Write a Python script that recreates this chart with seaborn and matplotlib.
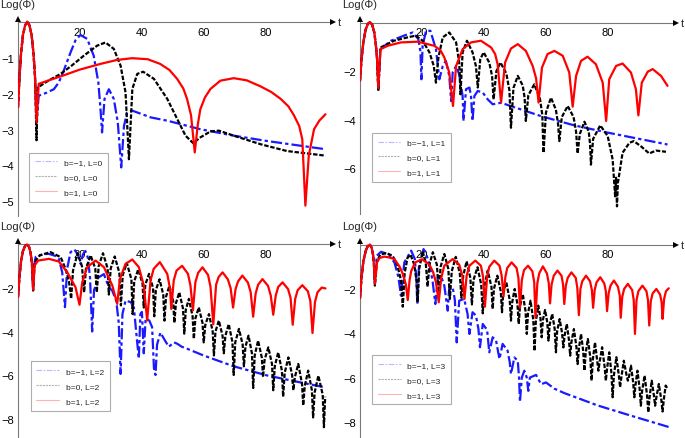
import numpy as np
import matplotlib
matplotlib.use("Agg")
import matplotlib.pyplot as plt
from matplotlib.lines import Line2D
from matplotlib.ticker import MultipleLocator, FixedLocator
import seaborn as sns

# (t, Log(Phi)) points, one array per curve.
# Every panel starts with the same pulse, listed once per panel.

P1_START = np.array([[0, -2.38], [0.5, -1.5], [1.0, -0.85], [1.6, -0.35], [2.3, -0.08],
                     [3.0, 0.02], [3.7, -0.08], [4.4, -0.35], [5.0, -0.85], [5.5, -1.5]])
P1_BLUE = np.array([[6.0, -2.8], [6.7, -2.05], [8.9, -1.98], [11.6, -1.87], [13.2, -1.68],
                    [14.8, -1.35], [17, -0.84], [18.6, -0.5], [20.2, -0.35], [22.4, -0.46],
                    [24.5, -0.93], [26, -1.68], [26.7, -2.43], [27.2, -3.08], [28, -2.14],
                    [29.4, -1.87], [31, -2.14], [32.3, -2.8], [33.4, -4.06], [34.3, -2.9],
                    [35.3, -2.52], [37, -2.47], [43, -2.66], [48.3, -2.75], [59, -2.99],
                    [69.8, -3.17], [80.6, -3.32], [99.5, -3.55]])
P1_BLACK = np.array([[6.0, -3.3], [6.4, -1.82], [10, -1.62], [13.8, -1.44], [17.5, -1.2],
                     [21.3, -0.93], [25.6, -0.65], [28.3, -0.56], [31, -0.74], [33.2, -1.21],
                     [34.8, -1.96], [35.9, -3.83], [37, -1.86], [38.6, -1.44], [40.5, -1.38],
                     [44, -1.58], [48.3, -2.14], [51.5, -2.7], [54.2, -3.17], [56.7, -3.38],
                     [59, -3.22], [62.3, -3.05], [65, -3.03], [69.8, -3.17], [78.5, -3.41],
                     [87, -3.6], [99.5, -3.73]])
P1_RED = np.array([[6.0, -2.8], [6.7, -1.72], [10, -1.62], [13.8, -1.51], [20, -1.32],
                   [26.7, -1.16], [32, -1.05], [37, -1.0], [42, -1.03], [46, -1.16],
                   [49, -1.33], [51.5, -1.58], [53.5, -1.85], [54.7, -2.14], [56, -2.6],
                   [57.2, -3.64], [58.2, -2.85], [59, -2.43], [60.5, -2.1], [62.3, -1.86],
                   [65.5, -1.63], [69.8, -1.56], [74, -1.62], [78.5, -1.79], [82, -1.95],
                   [85, -2.14], [87.5, -2.35], [89.3, -2.6], [91, -2.9], [92, -3.27],
                   [93, -5.13], [94.1, -3.73], [95.8, -2.99], [97.5, -2.75], [99.5, -2.57]])

P2_START = np.array([[0, -2.4], [0.5, -1.5], [1.1, -0.8], [1.8, -0.3], [2.5, -0.06],
                     [3.2, 0.02], [3.9, -0.08], [4.6, -0.4], [5.1, -0.9], [5.5, -1.5]])
P2_BLUE = np.array([[5.9, -2.7], [6.6, -1.1], [10, -0.75], [15.4, -0.48], [17, -0.41],
                    [18.8, -0.68], [19.5, -1.2], [19.8, -2.34], [20.2, -0.96], [21.3, -0.34],
                    [22.7, -0.34], [24.5, -1.1], [25.6, -2.34], [26.7, -1.79], [27.7, -1.58],
                    [28.8, -2.2], [29.4, -3.24], [29.9, -2.06], [31, -1.79], [32, -2.13],
                    [32.6, -2.61], [33.1, -3.03], [33.4, -4.06], [34.2, -2.75], [35.3, -2.68],
                    [35.8, -3.03], [36.3, -4.06], [36.9, -3.03], [38, -2.82], [39.6, -2.89],
                    [41.2, -3.17], [42.8, -3.37], [45.5, -3.31], [58.4, -3.86], [69.1, -4.24],
                    [79.9, -4.54], [99.2, -5.03]])
P2_BLACK = np.array([[5.9, -2.82], [6.6, -1.03], [11, -0.75], [15.4, -0.61], [18, -0.54],
                     [20.2, -0.75], [22.4, -1.23], [23.8, -1.79], [24.5, -2.48], [25.3, -1.44],
                     [26.7, -0.61], [28.8, -0.41], [31, -0.82], [32, -1.65], [32.4, -2.96],
                     [33.1, -1.23], [34.5, -0.75], [36.3, -1.23], [37.4, -1.8], [38, -2.68],
                     [38.8, -1.51], [39.9, -1.23], [41.7, -1.65], [42.6, -2.2], [43.1, -3.17],
                     [44.0, -2.0], [45.3, -1.65], [47.2, -2.1], [48.2, -2.8], [48.7, -4.34],
                     [49.5, -2.7], [50.9, -2.2], [52.5, -2.6], [53.1, -3.1], [53.5, -4.06],
                     [54.3, -3.0], [56.2, -2.55], [58.0, -3.1], [58.8, -3.8], [59.2, -5.37],
                     [60.0, -3.7], [61.6, -3.1], [63.2, -3.6], [63.9, -4.2], [64.3, -4.89],
                     [65.1, -3.9], [67, -3.44], [68.9, -3.9], [69.7, -4.5], [70.2, -5.4],
                     [70.9, -4.6], [72.4, -4.09], [73.8, -4.5], [74.2, -5.0], [74.5, -5.86],
                     [75.2, -4.8], [77.5, -4.24], [79.9, -4.68], [81.5, -5.65], [82.3, -7.17],
                     [82.6, -6.4], [82.9, -7.58], [83.2, -6.6], [83.7, -6.2], [84.7, -5.37],
                     [86.9, -4.96], [88.3, -4.89], [90.6, -5.1], [93.3, -5.4], [95.5, -5.28],
                     [98.7, -5.33]])
P2_RED = np.array([[5.9, -2.7], [6.6, -1.1], [8.9, -0.96], [13.2, -0.82], [18.6, -0.79],
                   [24, -0.96], [26, -1.15], [27.2, -1.44], [28.8, -2.06], [30, -3.44],
                   [31, -1.79], [33.1, -1.1], [35.8, -0.82], [39, -0.75], [42.3, -1.03],
                   [43.6, -1.3], [44.4, -1.72], [45.5, -3.3], [46.8, -1.65], [48.7, -1.07],
                   [50.9, -0.89], [53.5, -1.17], [55.7, -1.79], [56.8, -2.3], [57.6, -3.3],
                   [58.7, -1.86], [60.5, -1.3], [62.7, -1.17], [65.4, -1.37], [67.5, -2.06],
                   [68.6, -3.47], [69.7, -2.2], [71.3, -1.58], [73.4, -1.41], [76.1, -1.72],
                   [78.3, -2.48], [79.4, -4.06], [80.4, -2.34], [82.6, -1.79], [84.7, -1.69],
                   [87.4, -2.06], [89.0, -2.75], [89.8, -3.83], [90.9, -2.48], [92.8, -2.03],
                   [94.4, -1.92], [97.1, -2.2], [99.2, -2.61]])

P3_START = np.array([[0, -2.42], [0.5, -1.45], [1.0, -0.75], [1.6, -0.3], [2.3, -0.06],
                     [3.0, 0.0], [3.6, -0.12], [4.1, -0.4], [4.5, -0.85]])
P3_BLUE = np.array([[4.9, -2.1], [5.2, -1.0], [5.7, -0.58], [8, -0.45], [10, -0.43],
                    [12, -0.52], [13.2, -0.66], [14.3, -1.27], [15.2, -2.88], [15.9, -1.12],
                    [17, -0.35], [18.3, -0.23], [19.5, -0.5], [20.3, -0.9], [21, -0.45],
                    [21.8, -0.3], [22.6, -0.6], [23.3, -1.5], [24, -4.0], [24.6, -2.1],
                    [26.1, -1.51], [27.8, -1.36], [29.4, -1.97], [30.5, -2.12], [31.8, -2.6],
                    [32.6, -3.6], [33.2, -5.95], [33.8, -3.2], [34.8, -2.58], [36.5, -2.65],
                    [37.5, -2.9], [38.5, -4.4], [39.1, -5.25], [39.6, -3.2], [40.1, -3.1],
                    [40.7, -5.0], [41.3, -3.4], [42.5, -3.5], [43.4, -3.8], [44.0, -5.7],
                    [44.5, -6.0], [45.0, -4.6], [46.1, -4.05], [47.5, -4.4], [48.8, -4.7],
                    [50.5, -4.5], [51.5, -4.56], [53, -4.7], [54.7, -4.79], [60, -5.1],
                    [69.8, -5.6], [80.6, -6.02], [90, -6.3], [99.5, -6.57]])
P3_BLACK = np.array([[4.9, -2.12], [5.4, -0.8], [7, -0.5], [10.5, -0.35], [13.8, -0.58],
                     [15.4, -1.12], [16.5, -1.7], [17.2, -2.5], [17.8, -1.2], [19.3, -0.4],
                     [20.7, -1.0], [21.4, -2.2], [22.0, -1.1], [23.5, -0.5], [25.0, -1.1],
                     [25.5, -2.2], [26.1, -1.0], [27.5, -0.4], [29.0, -1.1], [29.4, -2.3],
                     [30.0, -1.1], [31.3, -0.55], [32.8, -1.3], [33.3, -2.8], [33.9, -1.4],
                     [35.2, -0.85], [36.7, -1.6], [37.1, -3.2], [37.6, -1.7], [38.9, -1.15],
                     [40.3, -1.8], [40.7, -2.9], [41.2, -1.85], [42.4, -1.35], [43.7, -2.0],
                     [44.1, -3.3], [44.6, -2.1], [45.8, -1.6], [47.0, -2.3], [47.4, -3.5],
                     [47.9, -2.4], [49.0, -1.9], [50.2, -2.6], [50.6, -3.6], [51.1, -2.7],
                     [52.2, -2.2], [53.4, -2.95], [53.8, -4.1], [54.3, -3.0], [55.3, -2.5],
                     [56.5, -3.3], [56.9, -4.34], [57.4, -3.4], [58.5, -2.89], [59.7, -3.6],
                     [60.1, -4.5], [60.6, -3.7], [61.8, -3.2], [63.0, -4.0], [63.4, -5.1],
                     [63.9, -4.0], [65.0, -3.5], [66.2, -4.2], [66.6, -5.0], [67.1, -4.2],
                     [68.2, -3.66], [69.4, -4.5], [69.8, -6.0], [70.3, -4.5], [71.5, -3.88],
                     [72.7, -4.6], [73.1, -5.6], [73.6, -4.7], [74.6, -4.19], [75.7, -5.0],
                     [76.1, -6.6], [76.6, -5.1], [77.7, -4.42], [78.9, -5.2], [79.3, -6.1],
                     [79.8, -5.3], [81.0, -4.73], [82.2, -5.5], [82.6, -6.7], [83.1, -5.6],
                     [84.2, -4.96], [85.4, -5.8], [85.8, -7.0], [86.3, -5.9], [87.5, -5.19],
                     [88.7, -6.0], [89.1, -6.7], [89.6, -6.1], [90.7, -5.49], [91.9, -6.4],
                     [92.3, -7.4], [92.8, -6.5], [93.9, -5.8], [95.1, -6.7], [95.5, -7.95],
                     [96.0, -6.8], [97.2, -6.03], [98.6, -6.9], [99.0, -8.4], [99.4, -7.0]])
P3_RED = np.array([[4.9, -2.08], [5.4, -0.96], [6.5, -0.74], [10, -0.66], [13.2, -0.78],
                   [15.9, -1.27], [18.6, -1.96], [19.9, -2.77], [20.8, -1.73], [22.4, -1.04],
                   [25.1, -0.74], [27.8, -1.04], [30.5, -1.88], [32.1, -2.73], [33, -1.58],
                   [34.8, -0.89], [37, -0.69], [39.1, -1.04], [40.7, -1.88], [41.8, -3.49],
                   [42.9, -1.65], [43.9, -1.12], [45.9, -0.81], [48.3, -1.35], [49.2, -2.04],
                   [49.6, -2.96], [50.4, -1.65], [51.3, -1.2], [53.1, -0.98], [55.0, -1.35],
                   [55.8, -1.88], [56.6, -3.03], [57.4, -1.73], [58.3, -1.3], [59.7, -1.05],
                   [61.5, -1.4], [62.3, -1.95], [63.2, -3.67], [64.1, -1.85], [64.9, -1.5],
                   [66.2, -1.28], [67.9, -1.6], [68.8, -2.0], [69.6, -2.9], [70.4, -2.05],
                   [71.2, -1.7], [72.6, -1.43], [74.4, -1.75], [75.3, -2.2], [76.1, -3.32],
                   [76.9, -2.25], [77.7, -1.85], [79.1, -1.59], [80.9, -1.9], [81.8, -2.35],
                   [82.6, -3.23], [83.4, -2.35], [84.2, -1.95], [85.6, -1.74], [87.4, -2.05],
                   [88.2, -2.45], [88.9, -3.69], [89.7, -2.5], [90.5, -2.1], [92.0, -1.87],
                   [93.8, -2.15], [94.6, -2.6], [95.3, -4.07], [96.1, -2.65], [96.9, -2.2],
                   [98.3, -1.98], [99.5, -2.02]])

P4_START = np.array([[0, -2.42], [0.5, -1.45], [1.1, -0.75], [1.8, -0.3], [2.5, -0.06],
                     [3.2, 0.0], [3.8, -0.15], [4.2, -0.45], [4.5, -0.9]])
P4_BLUE = np.array([[4.8, -1.77], [5.4, -0.5], [6.8, -0.32], [8.9, -0.42], [11.1, -0.8],
                    [12.4, -1.47], [13.2, -2.3], [14.0, -1.2], [14.3, -0.8], [16.5, -0.27],
                    [17.7, -0.65], [18.1, -1.4], [18.5, -2.68], [19.0, -1.0], [20.5, -0.2],
                    [21.5, -0.5], [22.4, -0.87], [23.4, -1.62], [24.3, -2.68], [25.1, -1.47],
                    [26.1, -1.4], [27.2, -1.85], [28.3, -2.98], [28.8, -1.9], [29.9, -1.93],
                    [30.6, -2.5], [31.2, -4.41], [32.0, -2.53], [33.6, -2.45], [34.7, -3.13],
                    [35.3, -4.03], [36.3, -3.05], [37.4, -3.2], [38.2, -3.8], [38.7, -4.63],
                    [39.6, -3.58], [41.0, -3.85], [41.7, -4.86], [42.8, -4.18], [43.9, -4.33],
                    [44.5, -4.8], [45.0, -5.16], [46.0, -4.48], [47.6, -4.78], [48.3, -5.3],
                    [48.7, -5.84], [49.8, -5.09], [50.9, -5.24], [51.3, -6.0], [51.6, -7.1],
                    [52.2, -6.0], [53.0, -5.69], [53.8, -6.0], [54.3, -6.6], [54.8, -6.0],
                    [56.8, -5.88], [58.4, -6.3], [60.0, -6.22], [62.7, -6.5], [65.9, -6.7],
                    [76.7, -7.26], [87.4, -7.72], [99.8, -8.24]])
P4_BLACK = np.array([[4.8, -1.85], [5.4, -0.8], [6.5, -0.45], [8.5, -0.38], [10.5, -0.5],
                     [12.0, -0.9], [13.2, -1.6], [13.8, -2.8], [14.4, -1.3], [15.3, -0.6],
                     [16.3, -0.45], [17.5, -0.9], [18.2, -1.6], [18.6, -2.6], [19.1, -1.1],
                     [20.2, -0.3], [21.2, -0.8], [21.8, -1.9], [22.4, -0.9], [23.5, -0.34],
                     [24.8, -0.9], [25.4, -2.15], [26.0, -1.0], [27.2, -0.42], [28.5, -1.1],
                     [29.0, -2.45], [29.6, -1.2], [30.9, -0.55], [32.2, -1.3], [32.7, -2.4],
                     [33.3, -1.4], [34.4, -0.75], [35.6, -1.5], [36.1, -2.7], [36.6, -1.6],
                     [37.9, -1.02], [39.1, -1.8], [39.6, -3.1], [40.1, -1.9], [41.2, -1.17],
                     [42.4, -1.9], [42.8, -2.9], [43.2, -2.0], [44.3, -1.4], [45.4, -2.1],
                     [45.8, -3.05], [46.2, -2.2], [47.2, -1.7], [48.3, -2.5], [48.7, -3.43],
                     [49.1, -2.6], [49.9, -2.0], [50.8, -2.7], [51.2, -3.58], [51.6, -2.8],
                     [52.5, -2.23], [53.4, -3.0], [53.8, -4.03], [54.2, -3.1], [55.0, -2.53],
                     [55.9, -3.4], [56.3, -4.8], [56.7, -3.5], [57.5, -2.75], [58.2, -3.3],
                     [58.6, -4.18], [59.0, -3.4], [59.7, -2.95], [60.4, -3.5], [60.8, -4.33],
                     [61.2, -3.6], [62.0, -3.13], [62.8, -3.8], [63.2, -4.86], [63.6, -3.9],
                     [64.4, -3.36], [65.2, -4.0], [65.6, -4.64], [66.0, -4.1], [66.7, -3.58],
                     [67.4, -4.3], [67.8, -5.01], [68.2, -4.4], [69.0, -3.81], [69.8, -4.6],
                     [70.2, -5.39], [70.6, -4.7], [71.3, -4.03], [72.0, -4.8], [72.4, -5.69],
                     [72.8, -4.9], [73.5, -4.26], [74.3, -5.1], [74.7, -6.14], [75.1, -5.2],
                     [75.8, -4.41], [76.5, -5.2], [76.9, -5.69], [77.3, -5.3], [78.1, -4.63],
                     [78.9, -5.5], [79.3, -6.14], [79.7, -5.6], [80.4, -4.86], [81.1, -5.8],
                     [81.5, -6.89], [81.9, -5.9], [82.7, -5.08], [83.5, -5.9], [83.9, -6.44],
                     [84.3, -6.0], [85.1, -5.24], [86.0, -5.9], [86.4, -6.14], [86.8, -5.95],
                     [87.4, -5.46], [88.1, -6.2], [88.5, -6.89], [88.9, -6.3], [89.5, -5.69],
                     [90.2, -6.5], [90.6, -7.27], [91.0, -6.6], [91.8, -5.91], [92.6, -6.8],
                     [93.0, -7.57], [93.4, -6.9], [94.1, -6.14], [94.8, -6.8], [95.2, -7.27],
                     [95.6, -6.9], [96.4, -6.29], [97.2, -7.0], [97.6, -7.53], [98.0, -7.0],
                     [98.6, -6.36], [99.3, -6.52]])
P4_RED = np.array([[4.8, -1.77], [5.5, -0.8], [6.3, -0.6], [7.8, -0.54], [9.5, -0.58],
                   [11.1, -0.65], [12.8, -1.0], [13.8, -1.32], [14.8, -1.8], [15.4, -2.5],
                   [16.0, -1.6], [16.5, -1.2], [17.8, -0.8], [20.0, -0.66], [22.4, -0.9],
                   [23.6, -1.25], [24.5, -1.7], [25.4, -2.6], [26.2, -1.5], [27.2, -0.95],
                   [29.9, -0.65], [32.0, -0.9], [33.0, -1.4], [33.7, -2.45], [34.4, -1.4],
                   [35.3, -0.95], [37.2, -0.72], [39.0, -0.95], [39.7, -1.45], [40.3, -2.8],
                   [41.0, -1.45], [41.7, -1.0], [43.3, -0.72], [45.0, -0.95], [45.7, -1.4],
                   [46.3, -2.33], [46.9, -1.45], [47.5, -1.05], [48.9, -0.8], [50.5, -1.05],
                   [51.1, -1.5], [51.6, -2.85], [52.2, -1.6], [52.9, -1.15], [54.2, -0.95],
                   [55.6, -1.2], [56.2, -1.7], [56.6, -3.3], [57.2, -1.75], [57.8, -1.3],
                   [59.0, -0.98], [60.3, -1.3], [60.9, -1.75], [61.3, -2.65], [61.8, -1.8],
                   [62.5, -1.4], [63.7, -1.17], [65.0, -1.4], [65.5, -1.8], [65.9, -2.68],
                   [66.4, -1.85], [67.0, -1.5], [68.2, -1.25], [69.6, -1.5], [70.1, -1.95],
                   [70.6, -3.18], [71.1, -2.0], [71.7, -1.65], [72.9, -1.4], [74.2, -1.65],
                   [74.8, -2.05], [75.2, -2.85], [75.7, -2.05], [76.3, -1.7], [77.5, -1.47],
                   [78.8, -1.75], [79.3, -2.1], [79.7, -3.0], [80.2, -2.2], [80.8, -1.85],
                   [81.9, -1.62], [83.2, -1.9], [83.8, -2.3], [84.1, -3.3], [84.6, -2.35],
                   [85.2, -2.0], [86.4, -1.77], [87.8, -2.05], [88.3, -2.5], [88.7, -4.03],
                   [89.2, -2.5], [89.8, -2.1], [91.1, -1.85], [92.4, -2.1], [92.9, -2.5],
                   [93.3, -3.65], [93.8, -2.55], [94.4, -2.2], [95.6, -2.0], [96.8, -2.25],
                   [97.3, -2.6], [97.6, -3.35], [98.1, -2.45], [98.7, -2.1], [99.6, -1.97]])

B_LABELS = ["\u22121", "0", "1"]
L_VALUES = [0, 1, 2, 3]
COLORS = ["#1a1aff", "#000000", "#ff0000"]
STYLES = [(0, (5, 1.4, 1.5, 1.4)), (0, (2.0, 0.8)), "-"]

sns.set_style("white")
plt.rcParams["font.family"] = ["Liberation Sans", "DejaVu Sans"]

W, H = 685, 439
fig = plt.figure(figsize=(W / 100, H / 100), dpi=100)

# pixel boxes (left, top, right, bottom), y limits, y tick steps, legend anchor
panels = [
    dict(box=(18, 19.9, 333.2, 217.0), ylim=(-5.42, 0.1), major=1, minor=0.2,
         leg=(0.035, 0.071), start=P1_START, curves=[P1_BLUE, P1_BLACK, P1_RED]),
    dict(box=(360, 19.9, 676.2, 215.1), ylim=(-7.9, 0.15), major=2, minor=0.5,
         leg=(0.037, 0.164), start=P2_START, curves=[P2_BLUE, P2_BLACK, P2_RED]),
    dict(box=(18, 241.8, 333.2, 438.0), ylim=(-8.85, 0.17), major=2, minor=0.5,
         leg=(0.04, 0.134), start=P3_START, curves=[P3_BLUE, P3_BLACK, P3_RED]),
    dict(box=(360, 241.9, 676.2, 437.5), ylim=(-8.66, 0.17), major=2, minor=0.5,
         leg=(0.039, 0.164), start=P4_START, curves=[P4_BLUE, P4_BLACK, P4_RED]),
]

axis_grey = "#7a7a7a"

for p, L in zip(panels, L_VALUES):
    l, t, r, b = p["box"]
    ax = fig.add_axes([l / W, 1 - b / H, (r - l) / W, (b - t) / H])
    ax.patch.set_alpha(0)

    for data, color, ls in zip(p["curves"], COLORS, STYLES):
        pts = np.vstack([p["start"], data])
        sns.lineplot(x=pts[:, 0], y=pts[:, 1], ax=ax, color=color, linestyle=ls,
                     linewidth=1.6, sort=False, estimator=None)

    ax.set_xlim(0, 102)
    ax.set_ylim(*p["ylim"])
    ax.set_xlabel("")
    ax.set_ylabel("")

    for side in ["top", "right"]:
        ax.spines[side].set_visible(False)
    ax.spines["bottom"].set_position(("data", 0))
    ax.spines["left"].set_position(("data", 0))
    for side in ["bottom", "left"]:
        ax.spines[side].set_color(axis_grey)
        ax.spines[side].set_linewidth(0.8)
        ax.spines[side].set_zorder(1)

    ax.xaxis.set_major_locator(FixedLocator([20, 40, 60, 80]))
    ax.xaxis.set_minor_locator(FixedLocator([5, 10, 15, 25, 30, 35, 45, 50, 55,
                                             65, 70, 75, 85, 90, 95]))
    ymin = p["ylim"][0]
    majors = np.arange(-p["major"], ymin - 1e-9, -p["major"])
    ax.yaxis.set_major_locator(FixedLocator(majors))
    ax.yaxis.set_minor_locator(MultipleLocator(p["minor"]))
    ax.tick_params(which="both", direction="in", color=axis_grey, width=0.7,
                   labelsize=8, labelcolor="black")
    ax.tick_params(which="major", length=3.5)
    ax.tick_params(which="minor", length=2)
    ax.tick_params(axis="x", pad=3)
    ax.tick_params(axis="y", pad=2.5)

    # axis arrows
    ax.plot(1, 0, marker=">", color="black", ms=5, mew=0,
            transform=ax.get_yaxis_transform(), clip_on=False)
    ax.plot(0, 1, marker="^", color="black", ms=5, mew=0,
            transform=ax.get_xaxis_transform(), clip_on=False)

    ax.annotate("t", xy=(1, 0), xycoords=("axes fraction", "data"),
                xytext=(3.5, 0), textcoords="offset points",
                ha="left", va="center", fontsize=8)
    ax.annotate("Log(\u03a6)", xy=(0, 1), xycoords="axes fraction",
                xytext=(0, 7), textcoords="offset points",
                ha="center", va="bottom", fontsize=8)

    handles = [Line2D([], [], color=c, linestyle=s, linewidth=0.8, alpha=0.3)
               for c, s in zip(COLORS, STYLES)]
    labels = [f"b={bv}, L={L}" for bv in B_LABELS]
    leg = ax.legend(handles, labels, loc="lower left", bbox_to_anchor=p["leg"],
                    borderaxespad=0, fontsize=6, frameon=True, fancybox=False,
                    handlelength=2.7, handletextpad=0.8, labelspacing=0.85,
                    borderpad=0.7)
    leg.get_frame().set_edgecolor("#9a9a9a")
    leg.get_frame().set_linewidth(0.8)

fig.savefig("out.png", dpi=100)
